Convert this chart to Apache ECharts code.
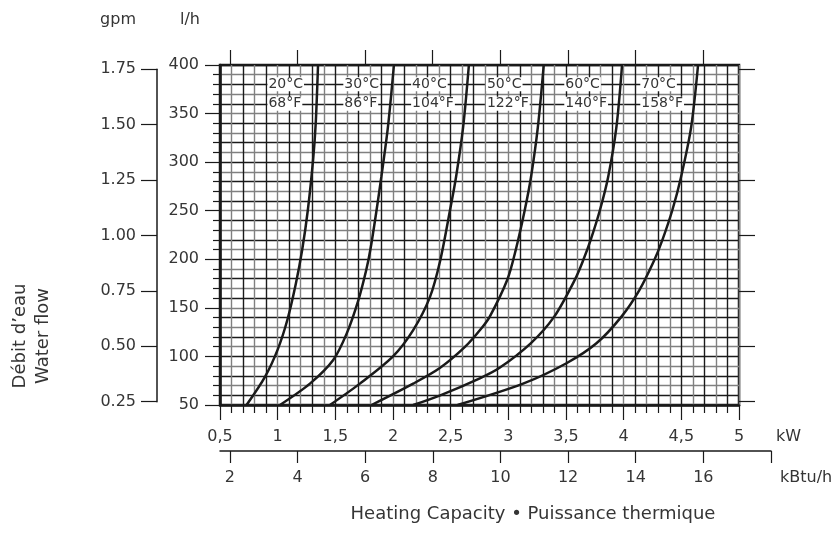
<!DOCTYPE html>
<html>
<head>
<meta charset="utf-8">
<script src="https://cdn.jsdelivr.net/npm/echarts@6/dist/echarts.min.js"></script>
<style>
  html, body { margin: 0; padding: 0; background: #fff; }
  #main { width: 835px; height: 534px; }
</style>
</head>
<body>
<div id="main"></div>
<script>
// courbes débit / puissance : [kW, l/h]
var curve20 = [[0.73, 50], [0.89, 79], [1.0, 107], [1.085, 138], [1.158, 175], [1.213, 210], [1.262, 251], [1.307, 302], [1.33, 340], [1.35, 400]];
var curve30 = [[1.02, 50], [1.28, 72], [1.48, 96], [1.6, 124], [1.7, 158], [1.768, 189], [1.804, 210], [1.858, 251], [1.899, 285], [1.956, 336], [2.008, 400]];
var curve40 = [[1.453, 50], [1.713, 72], [2.0, 100], [2.175, 127], [2.32, 161], [2.41, 199], [2.495, 251], [2.547, 285], [2.608, 336], [2.658, 400]];
var curve50 = [[1.814, 50], [2.175, 72], [2.406, 88], [2.626, 110], [2.767, 129], [2.839, 141], [2.991, 179], [3.065, 210], [3.143, 251], [3.197, 285], [3.256, 336], [3.307, 400]];
var curve60 = [[2.175, 50], [2.41, 60], [2.753, 77.5], [2.921, 88], [3.194, 113.5], [3.398, 141], [3.577, 179], [3.649, 199], [3.714, 220], [3.795, 251], [3.866, 285], [3.937, 336], [3.986, 400]];
var curve70 = [[2.56, 50], [3.128, 72], [3.504, 93], [3.764, 113.5], [3.981, 141], [4.135, 168], [4.265, 199], [4.336, 220], [4.423, 251], [4.498, 285], [4.585, 336], [4.645, 400]];

var curves = [curve20, curve30, curve40, curve50, curve60, curve70];
var tempC = ['20°C', '30°C', '40°C', '50°C', '60°C', '70°C'];
var tempF = ['68°F', '86°F', '104°F', '122°F', '140°F', '158°F'];

var kBtuTicks = [2, 4, 6, 8, 10, 12, 14, 16, 18];
var kBtuLabels = [2, 4, 6, 8, 10, 12, 14, 16];
var gpmTicks = [0.25, 0.5, 0.75, 1.0, 1.25, 1.5, 1.75];

var KBTU = 3.41214; // kBtu/h par kW
var FONT = '"DejaVu Sans"';
var TXT = '#353535';
var INK = '#1a1a1a';

var myChart = echarts.init(document.getElementById('main'));

var series = curves.map(function (c, i) {
  return {
    type: 'line',
    xAxisIndex: 0,
    yAxisIndex: 0,
    data: c,
    smooth: 0.3,
    showSymbol: false,
    silent: true,
    lineStyle: { color: INK, width: 2.5 },
    markPoint: {
      symbolSize: 0,
      data: [{ coord: c[c.length - 1] }],
      label: {
        show: true,
        position: 'left',
        distance: 14,
        offset: [0, 29],
        formatter: '{a|' + tempC[i] + '}\n{a|' + tempF[i] + '}',
        rich: {
          a: { align: 'left', backgroundColor: '#fff', padding: [0, 1], fontSize: 14, lineHeight: 19.5, color: TXT, fontFamily: FONT }
        }
      }
    }
  };
});

var option = {
  animation: false,
  grid: [
    { left: 220, top: 65, width: 519, height: 340, show: true, borderColor: INK, borderWidth: 2.5, backgroundColor: '#fff' },
    { left: 220, top: 420, width: 551, height: 31 },
    { left: 157, top: 69.3, width: 10, height: 332.4 }
  ],
  xAxis: [
    {
      gridIndex: 0, type: 'value', position: 'bottom', min: 0.5, max: 5, interval: 0.5,
      axisLine: { show: true, lineStyle: { color: INK, width: 2.5 } },
      axisTick: { show: true, length: 15, lineStyle: { color: INK, width: 1.2 } },
      minorTick: { show: true, splitNumber: 5, length: 8, lineStyle: { color: INK, width: 1.2 } },
      axisLabel: { margin: 24, fontSize: 16, color: TXT, fontFamily: FONT, showMinLabel: true, showMaxLabel: true,
        formatter: function (v) { return String(v).replace('.', ','); } },
      splitLine: { show: false }
    },
    {
      gridIndex: 0, type: 'value', position: 'bottom', min: 0.5, max: 5, interval: 0.1,
      axisLine: { show: false }, axisTick: { show: false }, axisLabel: { show: false },
      splitLine: { show: true, lineStyle: { color: ['#1a1a1a', '#808080'], width: 1.4 } }
    },
    {
      gridIndex: 0, type: 'value', position: 'top', min: 0.5 * KBTU, max: 5 * KBTU,
      axisLine: { show: false },
      axisTick: { show: true, length: 15, customValues: kBtuTicks.slice(0, 8), lineStyle: { color: INK, width: 1.2 } },
      axisLabel: { show: false }, splitLine: { show: false }
    },
    {
      gridIndex: 1, type: 'value', position: 'bottom', min: 0.5 * KBTU, max: 18,
      axisLine: { show: true, lineStyle: { color: INK, width: 1.5 } },
      axisTick: { show: true, length: 12, customValues: kBtuTicks, lineStyle: { color: INK, width: 1.2 } },
      axisLabel: { margin: 19, fontSize: 16, color: TXT, fontFamily: FONT, customValues: kBtuLabels },
      splitLine: { show: false }
    },
    { gridIndex: 2, type: 'value', show: false }
  ],
  yAxis: [
    {
      gridIndex: 0, type: 'value', position: 'left', min: 50, max: 400, interval: 50,
      axisLine: { show: true, lineStyle: { color: INK, width: 2.5 } },
      axisTick: { show: true, length: 15, lineStyle: { color: INK, width: 1.2 } },
      minorTick: { show: true, splitNumber: 5, length: 7, lineStyle: { color: INK, width: 1.2 } },
      axisLabel: { margin: 21, fontSize: 16, color: TXT, fontFamily: FONT, showMinLabel: true, showMaxLabel: true },
      splitLine: { show: false }
    },
    {
      gridIndex: 0, type: 'value', position: 'left', min: 50, max: 400, interval: 10,
      axisLine: { show: false }, axisTick: { show: false }, axisLabel: { show: false },
      splitLine: { show: true, lineStyle: { color: ['#808080', '#1a1a1a'], width: 1.4 } }
    },
    {
      gridIndex: 0, type: 'value', position: 'right', min: 0.2351, max: 1.7694,
      axisLine: { show: false },
      axisTick: { show: true, length: 16, customValues: gpmTicks, lineStyle: { color: INK, width: 1.2 } },
      axisLabel: { show: false }, splitLine: { show: false }
    },
    { gridIndex: 1, type: 'value', show: false },
    {
      gridIndex: 2, type: 'value', position: 'left', min: 0.25, max: 1.75, interval: 0.25,
      axisLine: { show: true, lineStyle: { color: INK, width: 1.5 } },
      axisTick: { show: true, length: 16, lineStyle: { color: INK, width: 1.2 } },
      axisLabel: { margin: 21, fontSize: 16, color: TXT, fontFamily: FONT, showMinLabel: true, showMaxLabel: true,
        formatter: function (v) { return v.toFixed(2); } },
      splitLine: { show: false }
    }
  ],
  graphic: [
    { type: 'text', x: 136, y: 20, style: { text: 'gpm', font: '16px ' + FONT, fill: TXT, align: 'right', verticalAlign: 'middle' } },
    { type: 'text', x: 200, y: 20, style: { text: 'l/h', font: '16px ' + FONT, fill: TXT, align: 'right', verticalAlign: 'middle' } },
    { type: 'text', x: 776, y: 437, style: { text: 'kW', font: '16px ' + FONT, fill: TXT, align: 'left', verticalAlign: 'middle' } },
    { type: 'text', x: 780, y: 478, style: { text: 'kBtu/h', font: '16px ' + FONT, fill: TXT, align: 'left', verticalAlign: 'middle' } },
    { type: 'text', x: 533, y: 514, style: { text: 'Heating Capacity • Puissance thermique', font: '18px ' + FONT, fill: TXT, align: 'center', verticalAlign: 'middle' } },
    { type: 'text', x: 32, y: 336, rotation: Math.PI / 2,
      style: { text: 'Débit d’eau\nWater flow', font: '18px ' + FONT, fill: TXT, align: 'center', verticalAlign: 'middle', lineHeight: 23 } }
  ],
  series: series
};

myChart.setOption(option);

window.onresize = () => {
  myChart.resize()
}
</script>
</body>
</html>
